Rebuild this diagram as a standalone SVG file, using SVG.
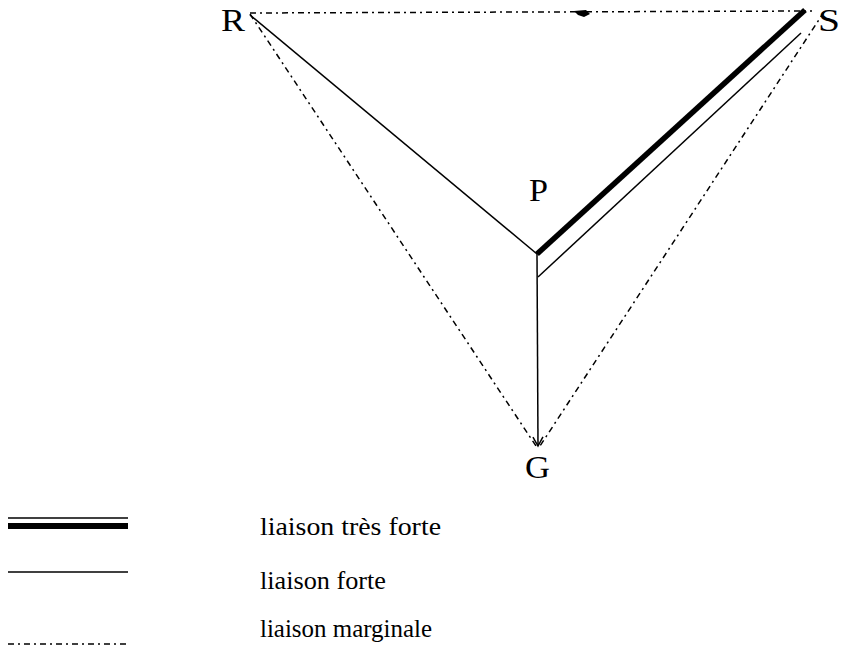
<svg xmlns="http://www.w3.org/2000/svg" width="849" height="653" viewBox="0 0 849 653">
<defs>
<style>
.thin{stroke:#000;stroke-width:1.5;fill:none}
.thick{stroke:#000;stroke-width:5.5;fill:none;stroke-linecap:butt}
.dd{stroke:#000;stroke-width:1.5;fill:none;stroke-dasharray:6 4 2 4}
.lbl{font-family:"Liberation Serif","Times New Roman",serif;font-size:31px;fill:#000}
.leg{font-family:"Liberation Serif","Times New Roman",serif;font-size:25px;fill:#000}
</style>
<marker id="openArrow" markerWidth="12" markerHeight="12" refX="10" refY="6" orient="auto" markerUnits="userSpaceOnUse">
<polyline points="1,1 10,6 1,11" fill="none" stroke="#000" stroke-width="1.5"/>
</marker>
</defs>
<rect width="849" height="653" fill="#fff"/>
<g id="connectors">
<line class="dd" x1="250" y1="13" x2="812" y2="11"/>
<polygon points="574,11 586,10 590,14 584,17 578,15" fill="#000"/>
<line class="dd" x1="250" y1="14" x2="536" y2="446"/>
<line class="dd" x1="824" y1="12" x2="540" y2="446"/>
<line class="thin" x1="250" y1="15" x2="537" y2="254"/>
<line class="thick" x1="537" y1="254" x2="805" y2="10"/>
<line class="thin" x1="538" y1="277" x2="801" y2="33"/>
<line class="thin" x1="537" y1="254" x2="538" y2="446" marker-end="url(#openArrow)"/>
</g>
<g id="node-R"><text class="lbl" x="221" y="31" textLength="24" lengthAdjust="spacingAndGlyphs">R</text></g>
<g id="node-S"><text class="lbl" x="818" y="31" textLength="22" lengthAdjust="spacingAndGlyphs">S</text></g>
<g id="node-P"><text class="lbl" x="529" y="201" textLength="19" lengthAdjust="spacingAndGlyphs">P</text></g>
<g id="node-G"><text class="lbl" x="525" y="478" textLength="25" lengthAdjust="spacingAndGlyphs">G</text></g>
<g id="legend">
<line class="thin" x1="8" y1="518" x2="128" y2="518"/>
<line x1="8" y1="526" x2="128" y2="526" stroke="#000" stroke-width="6"/>
<text class="leg" x="260" y="535" textLength="181" lengthAdjust="spacingAndGlyphs">liaison très forte</text>
<line class="thin" x1="8" y1="572" x2="128" y2="572"/>
<text class="leg" x="260" y="589" textLength="126" lengthAdjust="spacingAndGlyphs">liaison forte</text>
<line class="dd" x1="8" y1="644" x2="128" y2="644"/>
<text class="leg" x="260" y="637" textLength="172" lengthAdjust="spacingAndGlyphs">liaison marginale</text>
</g>
</svg>
